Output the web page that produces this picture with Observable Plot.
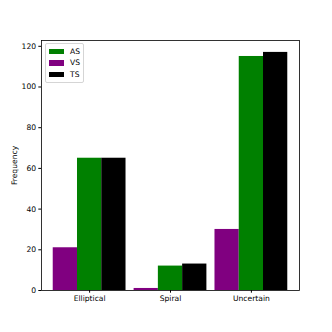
<!DOCTYPE html>
<html><head><meta charset="utf-8">
<script src="https://cdn.jsdelivr.net/npm/d3@7"></script>
<script src="https://cdn.jsdelivr.net/npm/@observablehq/plot@0.6"></script>
<style>
body{margin:0;background:#fff;font-family:"DejaVu Sans",sans-serif;}
#wrap{position:relative;width:332px;height:332px;}
#legend{position:absolute;left:45px;top:43px;width:37px;padding:2px 0 2px 0;border:1px solid #d5d5d5;border-radius:2px;background:rgba(255,255,255,0.8);font-size:7.6px;color:#000;}
.row{display:flex;align-items:center;height:11.3px;padding-left:3px;}
.sw{width:15px;height:5.3px;margin-right:6px;}
</style></head><body>
<div id="wrap"><div id="chart"></div><div id="legend"></div></div>
<script>
const categories = ["Elliptical", "Spiral", "Uncertain"];
const barSeries = ["VS", "AS", "TS"];      // drawing order within a group
const legendSeries = ["AS", "VS", "TS"];   // legend order
const VS = [21, 1, 30];
const AS = [65, 12, 115];
const TS = [65, 13, 117];
const colors = {AS: "#008000", VS: "#800080", TS: "#000000"};
const yTicks = [0, 20, 40, 60, 80, 100, 120];
const yLabel = "Frequency";

const values = {VS, AS, TS};
const barW = 0.3;
const data = [];
categories.forEach((c, ci) => {
  barSeries.forEach((s, si) => {
    const xc = ci + (si - 1) * barW;
    data.push({category: c, series: s, value: values[s][ci], x1: xc - barW / 2, x2: xc + barW / 2});
  });
});
const lo = -barW * 1.5, hi = categories.length - 1 + barW * 1.5;
const pad = (hi - lo) * 0.05;
const ymax = d3.max(data, d => d.value) * 1.05;

const chart = Plot.plot({
  width: 332, height: 332,
  marginLeft: 41, marginRight: 33, marginTop: 40, marginBottom: 42,
  style: {fontFamily: "DejaVu Sans", fontSize: "7.6px", color: "#000", background: "#fff"},
  x: {type: "linear", domain: [lo - pad, hi + pad]},
  y: {domain: [0, ymax]},
  color: {domain: Object.keys(colors), range: Object.values(colors)},
  marks: [
    Plot.rectY(data, {x1: "x1", x2: "x2", y: "value", fill: "series"}),
    Plot.axisX({ticks: categories.map((c, i) => i), tickFormat: i => categories[i], tickSize: 2.7, tickPadding: 2.7, label: null}),
    Plot.axisY({ticks: yTicks, tickSize: 2.7, tickPadding: 2.7, label: yLabel, labelArrow: "none", labelAnchor: "center", labelOffset: 30}),
    Plot.frame({stroke: "#000", strokeWidth: 0.8})
  ]
});
document.getElementById("chart").appendChild(chart);

const leg = document.getElementById("legend");
legendSeries.forEach(s => {
  const r = document.createElement("div"); r.className = "row";
  const sw = document.createElement("div"); sw.className = "sw"; sw.style.background = colors[s];
  const t = document.createElement("span"); t.textContent = s;
  r.appendChild(sw); r.appendChild(t); leg.appendChild(r);
});
</script></body></html>
